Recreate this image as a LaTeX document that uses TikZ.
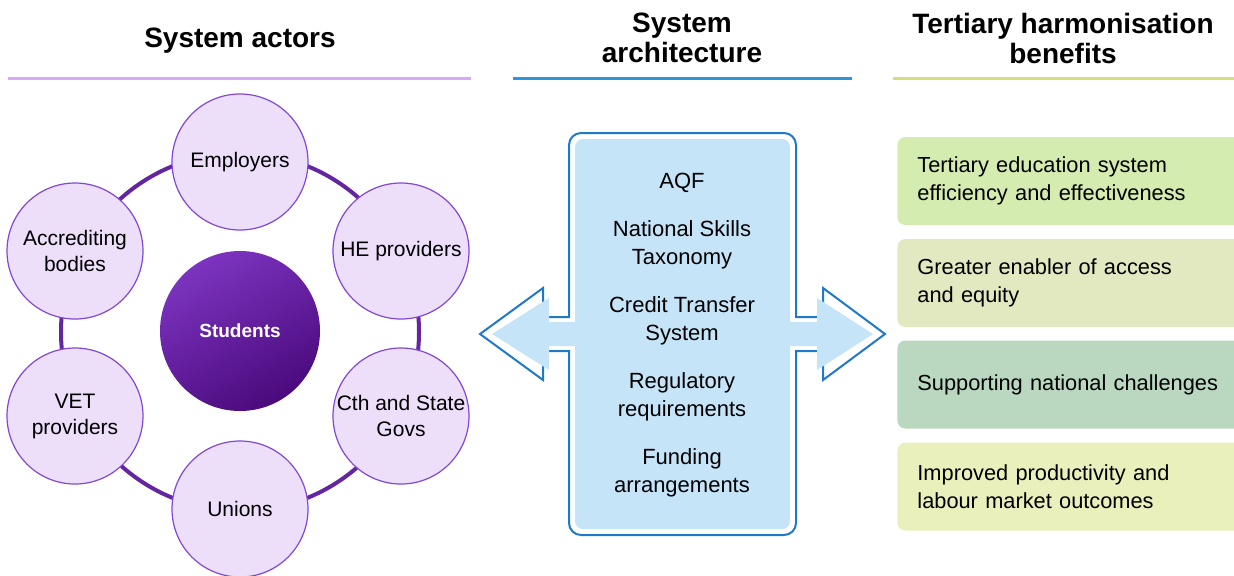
\documentclass[tikz,border=0pt]{standalone}
\usepackage{fontspec}
\setmainfont{Liberation Sans}
\definecolor{actorLine}{RGB}{214,168,246}
\definecolor{archLine}{RGB}{46,149,218}
\definecolor{benLine}{RGB}{212,222,124}
\definecolor{ringCol}{RGB}{100,38,160}
\definecolor{actorEdge}{RGB}{128,72,212}
\definecolor{actorFill}{RGB}{237,222,250}
\definecolor{stuLight}{RGB}{124,52,192}
\definecolor{stuDark}{RGB}{74,10,124}
\definecolor{archEdge}{RGB}{30,122,200}
\definecolor{archFill}{RGB}{198,228,248}
\definecolor{benA}{RGB}{212,236,176}
\definecolor{benB}{RGB}{226,232,192}
\definecolor{benC}{RGB}{186,216,192}
\definecolor{benD}{RGB}{234,240,188}

\begin{document}
\begin{tikzpicture}[x=0.5pt,y=-0.5pt,
actor/.style={circle,draw=actorEdge,line width=0.6pt,fill=actorFill,minimum size=68pt,inner sep=0pt,align=center,font=\fontsize{10.5}{13}\selectfont},
hub/.style={circle,minimum size=80pt,inner sep=0pt,shading=axis,top color=stuLight,bottom color=stuDark,shading angle=30,text=white,font=\bfseries\fontsize{9.5}{11}\selectfont},
heading/.style={align=center,font=\bfseries\fontsize{14}{15}\selectfont},
ring/.style={draw=ringCol,line width=2pt},
archtext/.style={align=center,font=\fontsize{11}{14}\selectfont},
benefit/.style={rectangle,rounded corners=4pt,anchor=west,minimum width=168pt,minimum height=44pt,text width=158pt,inner xsep=10pt,align=left,font=\fontsize{10.9}{14}\selectfont}]
\useasboundingbox (0,0) rectangle (1234,575);

% headings
\node[heading] at (240,41) (hA) {System actors};
\node[heading] at (682,38) (hB) {System\\architecture};
\node[heading] at (1063,38) (hC) {Tertiary harmonisation\\benefits};
\draw[actorLine,line width=1.5pt] (8,78) -- (471,78);
\draw[archLine,line width=1.5pt] (513,78) -- (852,78);
\draw[benLine,line width=1.5pt] (893,78) -- (1234,78);

% system actors
\coordinate (hubc) at (240,332);
\draw[ring] (hubc) circle[radius=89.5pt];
\node[actor] at (240,162) (emp) {Employers};
\node[actor] at (401,251) (he) {HE providers};
\node[actor] at (401,416) (cth) {Cth and State\\Govs};
\node[actor] at (240,509) (uni) {Unions};
\node[actor] at (75,416) (vet) {VET\\providers};
\node[actor] at (75,251) (acc) {Accrediting\\bodies};
\node[hub] at (240,331) (stu) {Students};

% system architecture
\draw[archEdge,line width=1pt,fill=white] (569,317) -- (569,145) arc[start angle=180,end angle=90,radius=6pt]
  -- (784,133) arc[start angle=90,end angle=0,radius=6pt] -- (796,317) -- (823,317) -- (823,288)
  -- (885,334) -- (823,380) -- (823,351) -- (796,351) -- (796,523) arc[start angle=0,end angle=-90,radius=6pt]
  -- (581,535) arc[start angle=270,end angle=180,radius=6pt] -- (569,351) -- (543,351) -- (543,380)
  -- (480,334) -- (543,288) -- (543,317) -- cycle;
\fill[archFill] (575,322) -- (575,147) arc[start angle=180,end angle=90,radius=4pt]
  -- (782,139) arc[start angle=90,end angle=0,radius=4pt] -- (790,322) -- (817,322) -- (817,298)
  -- (873,334) -- (817,370) -- (817,346) -- (790,346) -- (790,521) arc[start angle=0,end angle=-90,radius=4pt]
  -- (583,529) arc[start angle=270,end angle=180,radius=4pt] -- (575,346) -- (549,346) -- (549,370)
  -- (492,334) -- (549,298) -- (549,322) -- cycle;
\node[archtext] at (682,335) (arch) {AQF\\[10pt]National Skills\\Taxonomy\\[10pt]Credit Transfer\\System\\[10pt]Regulatory\\requirements\\[10pt]Funding\\arrangements};

% benefits
\node[benefit,fill=benA] at (897,181) (benA) {Tertiary education system\\efficiency and effectiveness};
\node[benefit,fill=benB] at (897,283) (benB) {Greater enabler of access\\and equity};
\node[benefit,fill=benC] at (897,384.5) (benC) {Supporting national challenges};
\node[benefit,fill=benD] at (897,486.5) (benD) {Improved productivity and\\labour market outcomes};
\end{tikzpicture}
\end{document}
